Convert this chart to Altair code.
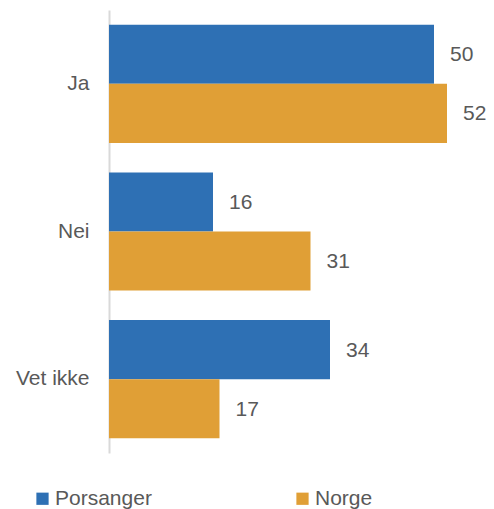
import altair as alt
import pandas as pd

categories = ["Ja", "Nei", "Vet ikke"]
series = ["Porsanger", "Norge"]
porsanger = [50, 16, 34]
norge = [52, 31, 17]
colors = ["#2E70B4", "#E09F36"]

rows = []
for c, p, n in zip(categories, porsanger, norge):
    rows.append({"kategori": c, "serie": "Porsanger", "verdi": p})
    rows.append({"kategori": c, "serie": "Norge", "verdi": n})
df = pd.DataFrame(rows)

FONT = "Liberation Sans"
TXT = "#595959"

y = alt.Y(
    "kategori:N",
    sort=categories,
    scale=alt.Scale(paddingInner=0.2, paddingOuter=0.1),
    axis=alt.Axis(
        title=None, ticks=False, grid=False, domainColor="#d9d9d9", domainWidth=2,
        labelFontSize=21, labelColor=TXT, labelPadding=20, labelFont=FONT,
    ),
)
yoff = alt.YOffset("serie:N", sort=series, scale=alt.Scale(paddingInner=0, paddingOuter=0))
x = alt.X("verdi:Q", scale=alt.Scale(domain=[0, 52], nice=False), axis=None)
color = alt.Color(
    "serie:N",
    sort=series,
    scale=alt.Scale(domain=series, range=colors),
    legend=alt.Legend(
        title=None, orient="none", legendX=-77, legendY=478, direction="horizontal",
        symbolType="square", symbolSize=150, symbolStrokeWidth=0, labelFontSize=21,
        labelColor=TXT, labelFont=FONT, labelOffset=2, columnPadding=140,
    ),
)

bars = alt.Chart(df).mark_bar().encode(x=x, y=y, yOffset=yoff, color=color)
labels = alt.Chart(df).mark_text(
    align="left", baseline="middle", dx=16, dy=1, fontSize=21, color=TXT, font=FONT
).encode(x=x, y=y, yOffset=yoff, text=alt.Text("verdi:Q"))

chart = (
    alt.layer(bars, labels)
    .properties(
        width=338, height=443,
        autosize=alt.AutoSizeParams(type="none"),
        padding={"left": 101, "top": 2, "right": 39, "bottom": 56},
    )
    .configure_view(strokeWidth=0)
)
chart.save("out.html", embed_options={"renderer": "svg", "actions": False})
